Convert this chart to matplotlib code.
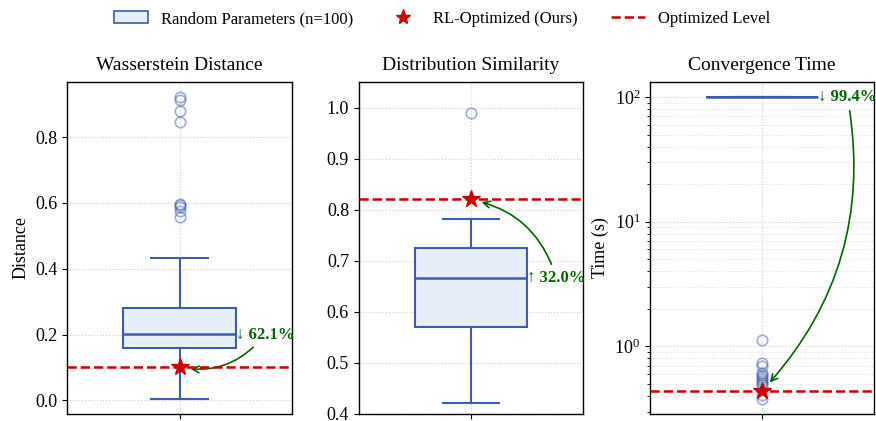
import matplotlib.pyplot as plt
from matplotlib.patches import Patch
from matplotlib.lines import Line2D

plt.rcParams['font.family'] = ['Liberation Serif', 'DejaVu Serif']
plt.rcParams['mathtext.fontset'] = 'stix'

# values
titles = ['Wasserstein Distance', 'Distribution Similarity', 'Convergence Time']
ylabels = ['Distance', '', 'Time (s)']

# box statistics per panel: q1, median, q3, low whisker, high whisker
q1 = [0.160, 0.570, 100.0]
med = [0.202, 0.667, 100.0]
q3 = [0.281, 0.725, 100.0]
whislo = [0.005, 0.421, 100.0]
whishi = [0.432, 0.782, 100.0]
fliers = [
    [0.921, 0.913, 0.880, 0.845, 0.597, 0.592, 0.587, 0.575, 0.558],
    [0.990],
    [1.12, 0.74, 0.70, 0.61, 0.59, 0.57, 0.55, 0.53, 0.51, 0.49, 0.41, 0.38],
]
optimized = [0.100, 0.820, 0.44]
labels = ['\u2193 62.1%', '\u2191 32.0%', '\u2193 99.4%']
label_y = [0.20, 0.667, 100.0]
arc = [-0.3, 0.3, -0.25]

box_face = '#e6eef9'
box_edge = '#3a5ea8'
red = '#cc0000'
green = '#006400'

fig, axes = plt.subplots(1, 3, figsize=(8.76, 4.21), dpi=100)
fig.subplots_adjust(left=0.077, right=0.998, top=0.805, bottom=0.017, wspace=0.3)

for i, ax in enumerate(axes):
    stats = [dict(q1=q1[i], med=med[i], q3=q3[i], whislo=whislo[i],
                  whishi=whishi[i], fliers=fliers[i])]
    ax.bxp(stats, positions=[1], widths=0.5, patch_artist=True,
           boxprops=dict(facecolor=box_face, edgecolor=box_edge, linewidth=1.5),
           medianprops=dict(color=box_edge, linewidth=1.8),
           whiskerprops=dict(color=box_edge, linewidth=1.5),
           capprops=dict(color=box_edge, linewidth=1.5),
           flierprops=dict(marker='o', markerfacecolor='none',
                           markeredgecolor=box_edge, markeredgewidth=1.2,
                           alpha=0.5, markersize=7.5))
    ax.axhline(optimized[i], color=red, linestyle='--', linewidth=1.8, zorder=4)
    ax.plot([1], [optimized[i]], marker='*', color=red, markersize=13,
            linestyle='none', zorder=5)
    ax.annotate(labels[i], xy=(1, optimized[i]), xytext=(1.25, label_y[i]),
                ha='left', va='center', fontsize=12, fontweight='bold',
                color=green, annotation_clip=False,
                arrowprops=dict(arrowstyle='->', color=green, lw=1.2,
                                shrinkA=2, shrinkB=8,
                                connectionstyle='arc3,rad=%s' % arc[i]))
    ax.set_title(titles[i], fontsize=14, pad=9)
    if ylabels[i]:
        ax.set_ylabel(ylabels[i], fontsize=13)
    ax.set_xlim(0.5, 1.5)
    ax.set_xticks([1])
    ax.set_xticklabels([''])
    ax.tick_params(labelsize=13)
    ax.grid(True, linestyle=':', color='#cccccc', linewidth=0.8)
    for s in ax.spines.values():
        s.set_linewidth(1.0)

axes[1].set_ylim(0.4, 1.05)
axes[2].set_yscale('log')
axes[2].grid(True, which='minor', axis='y', linestyle=':', color='#dddddd', linewidth=0.7)

handles = [
    Patch(facecolor=box_face, edgecolor=box_edge, linewidth=1.2,
          label='Random Parameters (n=100)'),
    Line2D([], [], marker='*', color=red, linestyle='none', markersize=11,
           label='RL-Optimized (Ours)'),
    Line2D([], [], color=red, linestyle='--', linewidth=1.8, label='Optimized Level'),
]
fig.legend(handles=handles, loc='center', bbox_to_anchor=(0.505, 0.955), ncol=3,
           frameon=False, fontsize=12, columnspacing=2.0)

fig.savefig('out.png', dpi=100)
